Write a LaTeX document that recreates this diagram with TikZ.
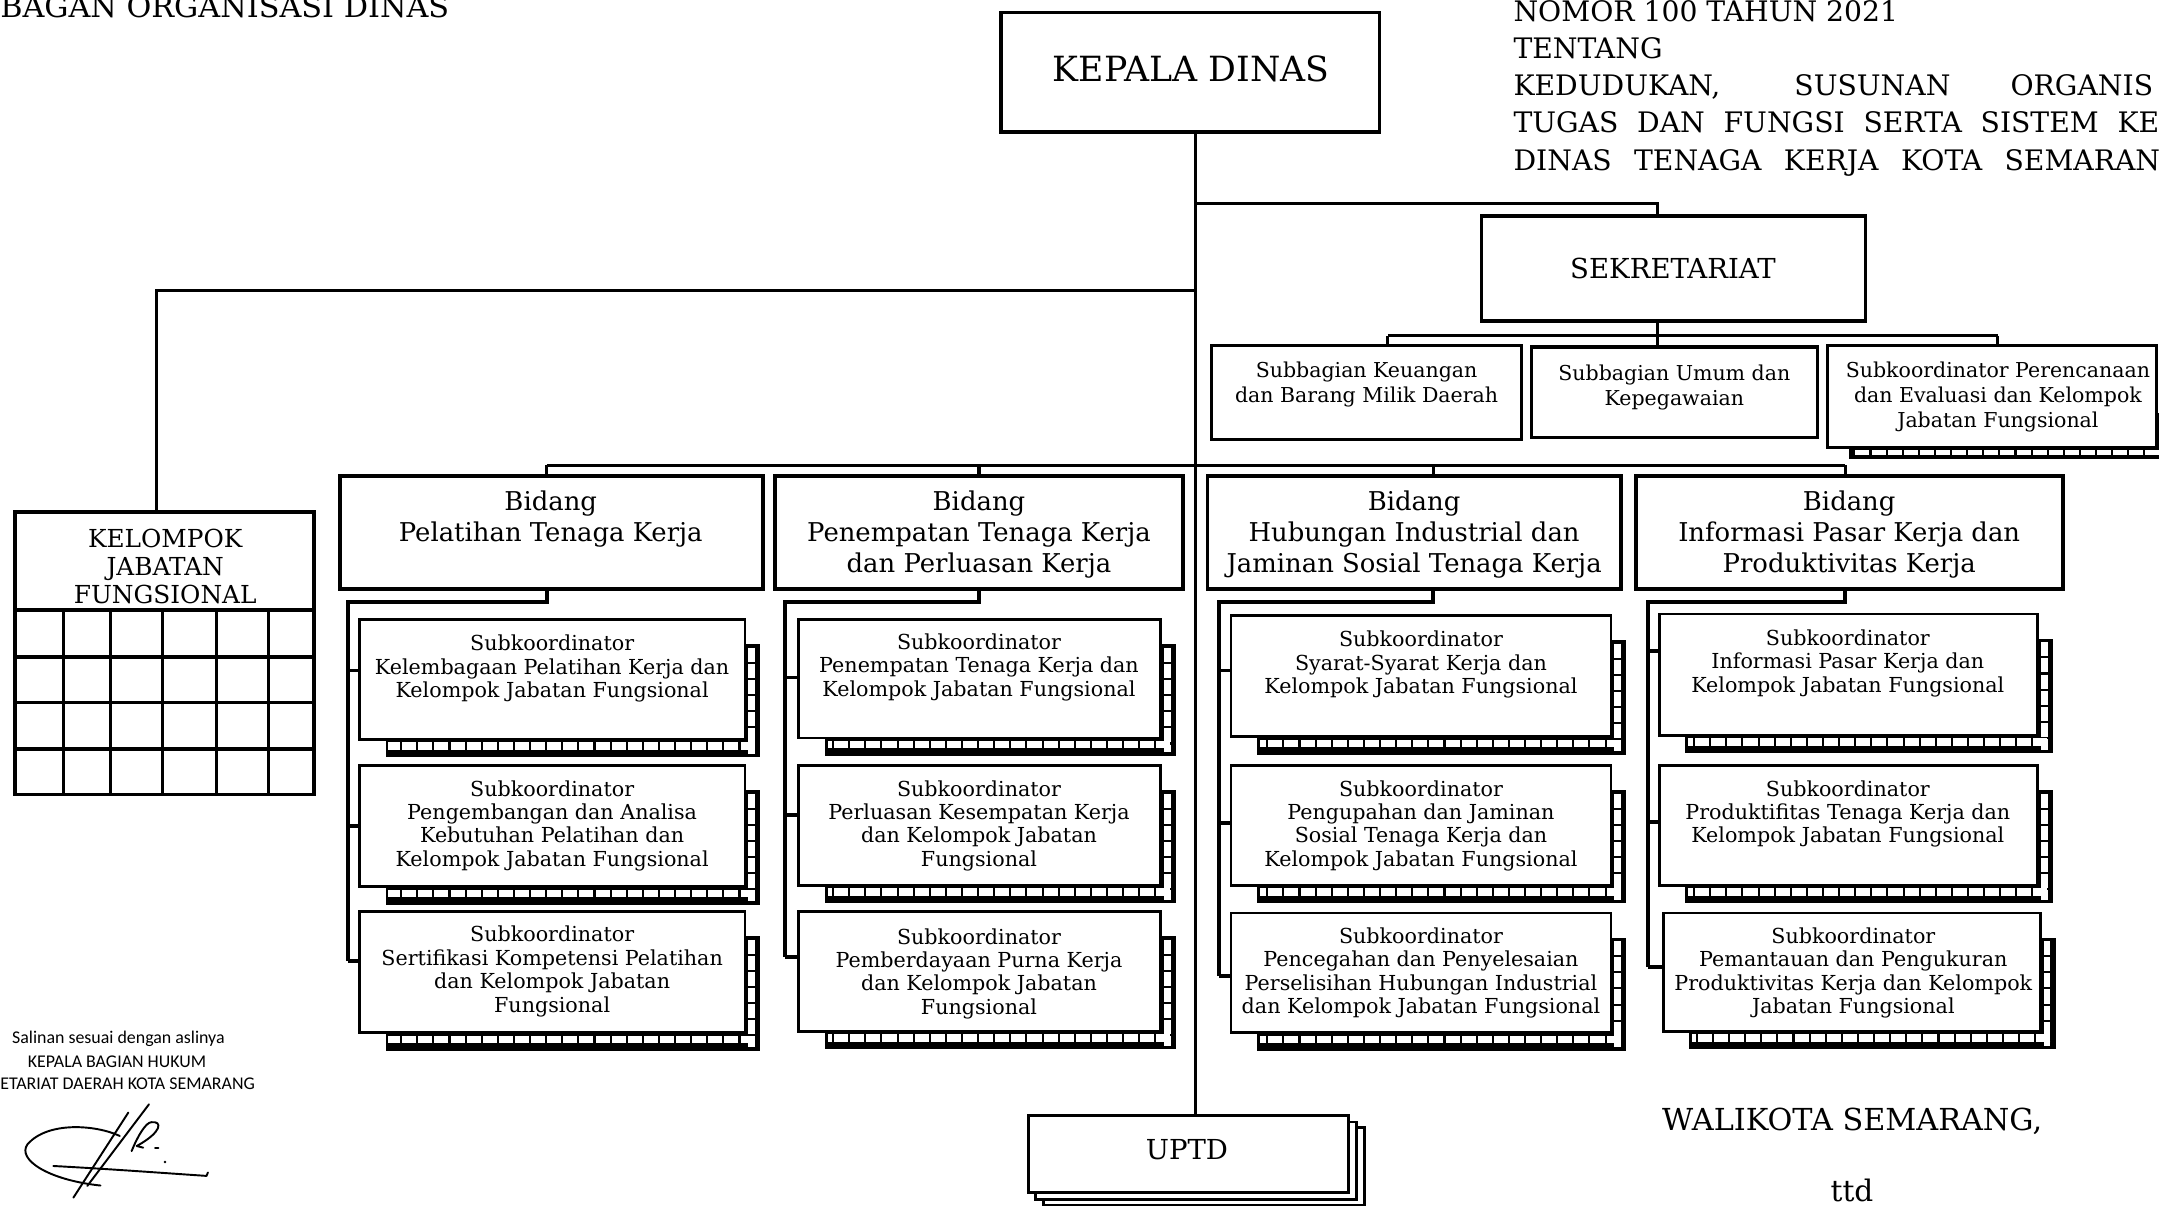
\documentclass[tikz,border=0pt]{standalone}
\usepackage{fontspec}
\setmainfont{DejaVu Serif}
\newfontfamily\calib{Carlito}
\usetikzlibrary{fit}
\newcommand{\ladderbox}[5]{%
  \fill ({#2+19},{#3+18}) rectangle ({#4+11},{#5+13});
  \draw[white, line width=4.6, dash pattern=on 10.2 off 1.5] ({#4+4.8},{#3+20.5}) -- ({#4+4.8},{#5+10.5});
  \draw[white, line width=5.4, dash pattern=on 10.2 off 1.5] ({#4+7},{#5+4.8}) -- ({#2+21},{#5+4.8});
  \node[box, fit={(#2,#3) (#4,#5)}] (#1) {};
}
\begin{document}
\begin{tikzpicture}[x=1pt,y=-1pt,
  box/.style={draw, fill=white, line width=2, inner sep=0pt},
  bbox/.style={draw, fill=white, line width=2.8, inner sep=0pt},
  kbox/.style={draw, fill=white, line width=2.5, inner sep=0pt},
  conn/.style={line width=2.2},
  tconn/.style={line width=2.8},
  subtxt/.style={anchor=north, align=center, inner sep=0pt, font=\fontsize{15}{17}\selectfont},
  sektxt/.style={anchor=north, align=center, inner sep=0pt, font=\fontsize{14.9}{18}\selectfont},
  bidtxt/.style={anchor=north, align=center, inner sep=0pt, font=\fontsize{18.8}{22.5}\selectfont},
  hdr/.style={anchor=base west, inner sep=0pt, font=\fontsize{20.5}{22}\selectfont},
  smalltxt/.style={inner sep=0pt, font=\calib\fontsize{13}{15}\selectfont},
  sig/.style={line width=1.4, line cap=round, line join=round}
]
\useasboundingbox (0,0) rectangle (1568,876);
\fill[white] (0,0) rectangle (1568,876);

% ---------- header texts ----------
\begin{scope}
\clip (0,0) rectangle (1568,876);
\node[anchor=base west, inner sep=0pt, font=\fontsize{22}{24}\selectfont] (title) at (0,12.5) {BAGAN ORGANISASI DINAS};
\node[hdr] (h1) at (1099,15.5) {NOMOR 100 TAHUN 2021};
\node[hdr] (h2) at (1099,42.5) {TENTANG};
\node[hdr] (h3a) at (1099,69.5) {KEDUDUKAN,};
\node[hdr] (h3b) at (1303,69.5) {SUSUNAN};
\node[hdr] (h3c) at (1460,69.5) {ORGANIS};
\node[hdr] (h4) at (1099,96.5) {\makebox[469pt][s]{TUGAS DAN FUNGSI SERTA SISTEM KE}};
\node[hdr] (h5) at (1099,124) {\makebox[486pt][s]{DINAS TENAGA KERJA KOTA SEMARANG}};
\node[smalltxt, anchor=base west] (sl3) at (0,791) {ETARIAT DAERAH KOTA SEMARANG};
\node[anchor=base, inner sep=0pt, font=\fontsize{21.5}{23}\selectfont] (ttd) at (1345,872.5) {ttd};
\end{scope}

% ---------- kelompok jabatan fungsional ----------
\node[kbox, line width=2.8, fit={(11,372) (228,577)}] (kel) {};
\node[anchor=north, align=center, inner sep=0pt, font=\fontsize{18}{20.5}\selectfont] (kelt) at (120,384) {KELOMPOK\\JABATAN\\FUNGSIONAL};
\foreach \yy in {443,477,510,544} \draw[line width=2.5] (11,\yy) -- (228,\yy);
\foreach \xx in {46,80,118,157,195} \draw[line width=2.3] (\xx,443) -- (\xx,577);

% ---------- top level ----------
\node[kbox, fit={(727,9) (1002,96)}] (kd) {};
\node[inner sep=0pt, font=\fontsize{25.2}{28}\selectfont] (kdt) at (865,50) {KEPALA DINAS};

\node[kbox, fit={(1076,157) (1355,233)}] (sek) {};
\node[inner sep=0pt, font=\fontsize{20}{22}\selectfont] (sekt) at (1215,195) {SEKRETARIAT};

\coordinate (tx) at (868,0);
\coordinate (ts) at (868,148);
\coordinate (sx) at (1204,0);
\coordinate (tl) at (868,211);
\coordinate (kx) at (114,0);

% UPTD stacked
\node[draw, fill=white, line width=1.8, inner sep=0pt, fit={(758,819) (991,875)}] (up3) {};
\node[draw, fill=white, line width=1.8, inner sep=0pt, fit={(752,815) (985,871)}] (up2) {};
\node[draw, fill=white, line width=2.2, inner sep=0pt, fit={(747,810) (979,866)}] (uptd) {};
\node[inner sep=0pt, font=\fontsize{20}{22}\selectfont] (uptdt) at (862,835) {UPTD};

\draw[conn] (kd.south -| tx) -- (uptd.north -| tx);
\draw[conn] (ts) -| (sek.north -| sx);
\draw[conn] (tl) -| (kel.north -| kx);

% ---------- sekretariat subs ----------
\node[box, line width=2.2, fit={(880,251) (1105,319)}] (kg) {};
\node[sektxt] (kgt) at (992.5,263) {Subbagian Keuangan\\dan Barang Milik Daerah};
\node[box, line width=2.2, fit={(1112,252) (1320,318)}] (um) {};
\node[sektxt] (umt) at (1216,265) {Subbagian Umum dan\\Kepegawaian};
\fill (1343,300) rectangle (1580,333);
\draw[white, line width=4, dash pattern=on 10.2 off 1.5] (1580,328.5) -- (1346,328.5);
\node[box, line width=2.2, fit={(1327,251) (1566,325)}] (pr) {};
\node[sektxt] (prt) at (1451,263) {Subkoordinator Perencanaan\\dan Evaluasi dan Kelompok\\Jabatan Fungsional};

\coordinate (sbl) at (1008,244);
\coordinate (sbm) at (1204,244);
\coordinate (sbr) at (1451,244);
\draw[conn] (sek.south -| sbm) -- (sbm);
\draw[conn] (sbl) -- (sbr);
\draw[conn] (sbl) -- (kg.north -| sbl);
\draw[conn] (sbm) -- (um.north -| sbm);
\draw[conn] (sbr) -- (pr.north -| sbr);

% ---------- bidang ----------
\node[bbox, fit={(247,346) (554,428)}] (b1) {};
\node[bidtxt] (b1t) at (400,356.5) {Bidang\\Pelatihan Tenaga Kerja};
\node[bbox, fit={(563,346) (859,428)}] (b2) {};
\node[bidtxt] (b2t) at (711,356.5) {Bidang\\Penempatan Tenaga Kerja\\dan Perluasan Kerja};
\node[bbox, fit={(877,346) (1177,428)}] (b3) {};
\node[bidtxt] (b3t) at (1027,356.5) {Bidang\\Hubungan Industrial dan\\Jaminan Sosial Tenaga Kerja};
\node[bbox, fit={(1188,346) (1498,428)}] (b4) {};
\node[bidtxt] (b4t) at (1343,356.5) {Bidang\\Informasi Pasar Kerja dan\\Produktivitas Kerja};

\coordinate (bl) at (397,338);
\coordinate (br) at (1340,338);
\coordinate (bx2) at (711,0);
\coordinate (bx3) at (1041,0);
\draw[conn] (bl) -- (br);
\draw[conn] (bl) -- (b1.north -| bl);
\draw[conn] (bx2 |- bl) -- (b2.north -| bx2);
\draw[conn] (bx3 |- bl) -- (b3.north -| bx3);
\draw[conn] (br) -- (b4.north -| br);

% ---------- column 1 ----------
\ladderbox{s11}{261}{450}{541}{537}
\ladderbox{s12}{261}{556}{541}{644}
\ladderbox{s13}{261}{662}{541}{750}
\node[subtxt] (s11t) at (401,461) {Subkoordinator\\Kelembagaan Pelatihan Kerja dan\\Kelompok Jabatan Fungsional};
\node[subtxt] (s12t) at (401,566.5) {Subkoordinator\\Pengembangan dan Analisa\\Kebutuhan Pelatihan dan\\Kelompok Jabatan Fungsional};
\node[subtxt] (s13t) at (401,672.5) {Subkoordinator\\Sertifikasi Kompetensi Pelatihan\\dan Kelompok Jabatan\\Fungsional};
\coordinate (d1) at (397,437);
\coordinate (k11) at (253,487);
\coordinate (k12) at (253,600);
\coordinate (k13) at (253,698);
\draw[tconn] (b1.south -| d1) -- (d1) -| (k13);
\draw[tconn] (k11) -- (k11 -| s11.west);
\draw[tconn] (k12) -- (k12 -| s12.west);
\draw[tconn] (k13) -- (k13 -| s13.west);

% ---------- column 2 ----------
\ladderbox{s21}{580}{450}{843}{536}
\ladderbox{s22}{580}{556}{843}{643}
\ladderbox{s23}{580}{662}{843}{749}
\node[subtxt] (s21t) at (711,460) {Subkoordinator\\Penempatan Tenaga Kerja dan\\Kelompok Jabatan Fungsional};
\node[subtxt] (s22t) at (711,566.5) {Subkoordinator\\Perluasan Kesempatan Kerja\\dan Kelompok Jabatan\\Fungsional};
\node[subtxt] (s23t) at (711,674) {Subkoordinator\\Pemberdayaan Purna Kerja\\dan Kelompok Jabatan\\Fungsional};
\coordinate (d2) at (711,437);
\coordinate (k21) at (570,492);
\coordinate (k22) at (570,592);
\coordinate (k23) at (570,695);
\draw[tconn] (b2.south -| d2) -- (d2) -| (k23);
\draw[tconn] (k21) -- (k21 -| s21.west);
\draw[tconn] (k22) -- (k22 -| s22.west);
\draw[tconn] (k23) -- (k23 -| s23.west);

% ---------- column 3 ----------
\ladderbox{s31}{894}{447}{1170}{535}
\ladderbox{s32}{894}{556}{1170}{643}
\ladderbox{s33}{894}{663}{1170}{750}
\node[subtxt] (s31t) at (1032,458) {Subkoordinator\\Syarat-Syarat Kerja dan\\Kelompok Jabatan Fungsional};
\node[subtxt] (s32t) at (1032,566.5) {Subkoordinator\\Pengupahan dan Jaminan\\Sosial Tenaga Kerja dan\\Kelompok Jabatan Fungsional};
\node[subtxt] (s33t) at (1032,673.5) {Subkoordinator\\Pencegahan dan Penyelesaian\\Perselisihan Hubungan Industrial\\dan Kelompok Jabatan Fungsional};
\coordinate (d3) at (1041,437);
\coordinate (k31) at (885,487);
\coordinate (k32) at (885,598);
\coordinate (k33) at (885,709);
\draw[tconn] (b3.south -| d3) -- (d3) -| (k33);
\draw[tconn] (k31) -- (k31 -| s31.west);
\draw[tconn] (k32) -- (k32 -| s32.west);
\draw[tconn] (k33) -- (k33 -| s33.west);

% ---------- column 4 ----------
\ladderbox{s41}{1205}{446}{1480}{534}
\ladderbox{s42}{1205}{556}{1480}{643}
\ladderbox{s43}{1208}{663}{1482}{749}
\node[subtxt] (s41t) at (1342,457) {Subkoordinator\\Informasi Pasar Kerja dan\\Kelompok Jabatan Fungsional};
\node[subtxt] (s42t) at (1342,566.5) {Subkoordinator\\Produktifitas Tenaga Kerja dan\\Kelompok Jabatan Fungsional};
\node[subtxt] (s43t) at (1346,673.5) {Subkoordinator\\Pemantauan dan Pengukuran\\Produktivitas Kerja dan Kelompok\\Jabatan Fungsional};
\coordinate (d4) at (1340,437);
\coordinate (k41) at (1197,473);
\coordinate (k42) at (1197,597);
\coordinate (k43) at (1197,702);
\draw[tconn] (b4.south -| d4) -- (d4) -| (k43);
\draw[tconn] (k41) -- (k41 -| s41.west);
\draw[tconn] (k42) -- (k42 -| s42.west);
\draw[tconn] (k43) -- (k43 -| s43.west);

% ---------- signature block ----------
\node[smalltxt, anchor=base] (sl1) at (86,758) {Salinan sesuai dengan aslinya};
\node[smalltxt, anchor=base] (sl2) at (85,775) {KEPALA BAGIAN HUKUM};
\draw[sig] (87,825) .. controls (70,817) and (35,814) .. (20,831) .. controls (12,842) and (35,857) .. (73,861);
\draw[sig] (38.7,846.8) .. controls (80,849) and (120,852) .. (150,854) -- (151,851.5);
\draw[sig] (53.3,869.8) -- (93.2,808);
\draw[sig] (63.4,861.3) -- (108.2,802);
\draw[sig] (95.6,836) .. controls (100,825) and (106,815) .. (110,815) .. controls (118,814) and (118,822) .. (99.3,832.3) -- (104,833.5);
\draw[sig] (112.6,833.7) -- (115,833.7);
\fill (119.8,843.9) circle (1);

% ---------- walikota ----------
\node[anchor=base west, inner sep=0pt, font=\fontsize{22}{24}\selectfont] (wk) at (1207,821) {WALIKOTA SEMARANG,};
\end{tikzpicture}
\end{document}
